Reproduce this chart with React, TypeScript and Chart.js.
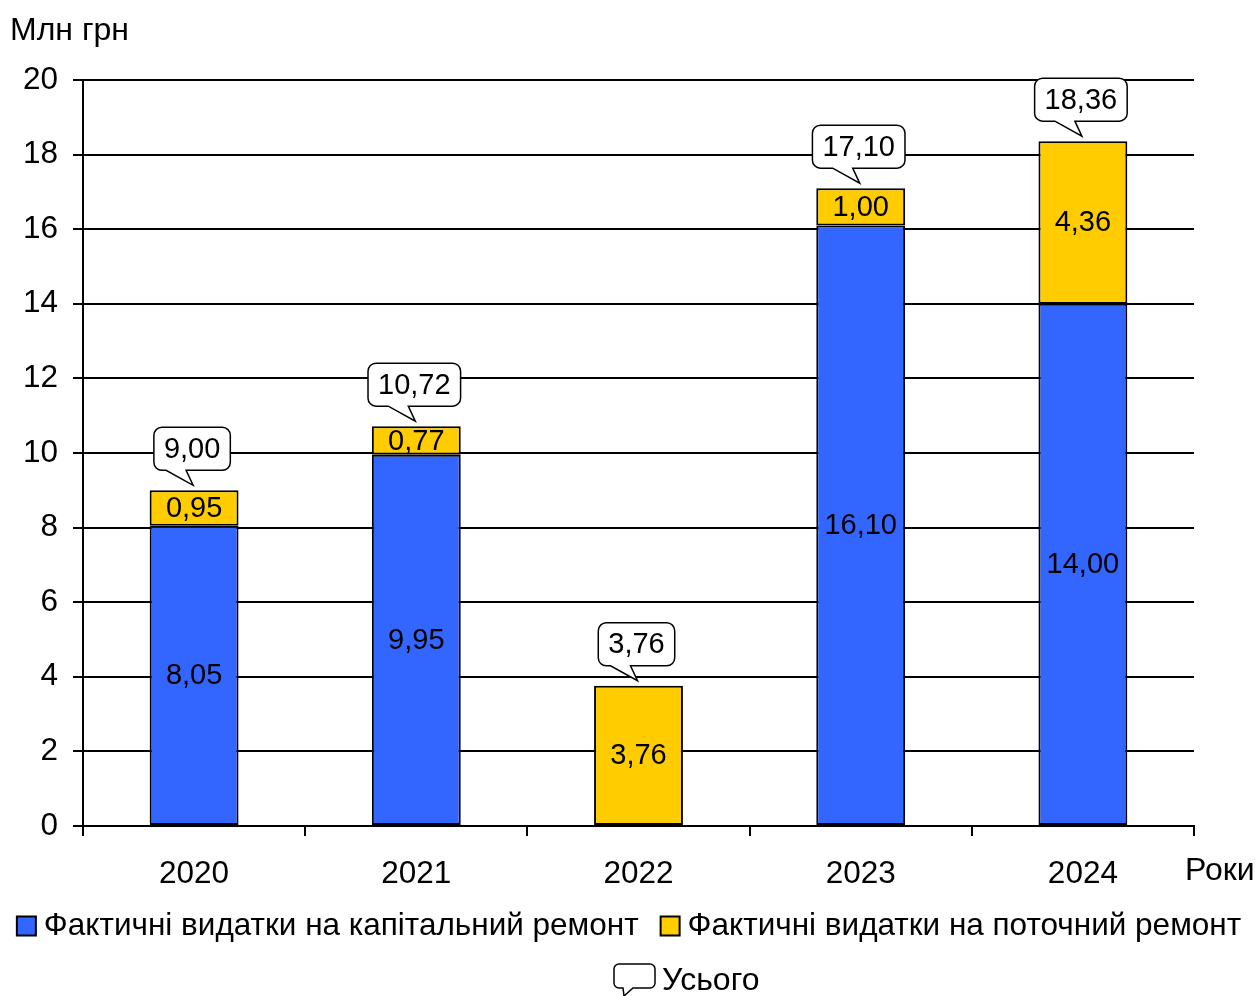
import React, { useEffect, useRef } from "react";
import { Chart, registerables } from "chart.js";

Chart.register(...registerables);

const years = ["2020", "2021", "2022", "2023", "2024"];
const capitalRepair = [8.05, 9.95, 0, 16.1, 14.0];
const currentRepair = [0.95, 0.77, 3.76, 1.0, 4.36];
const totals = [9.0, 10.72, 3.76, 17.1, 18.36];
const yMin = 0;
const yMax = 20;
const yStep = 2;
const seriesNames = [
  "Фактичні видатки на капітальний ремонт",
  "Фактичні видатки на поточний ремонт",
];
const totalName = "Усього";
const yAxisTitle = "Млн грн";
const xAxisTitle = "Роки";

const FONT = '"Liberation Sans", Arial, sans-serif';
const BLUE = "#3366FF";
const YELLOW = "#FFCC00";
const fmt = (v: number) => v.toFixed(2).replace(".", ",");

function calloutPath(
  ctx: CanvasRenderingContext2D,
  left: number,
  top: number,
  w: number,
  h: number,
  r: number,
  p1: number,
  p2: number,
  tipX: number,
  tipY: number
) {
  const right = left + w;
  const bottom = top + h;
  ctx.beginPath();
  ctx.moveTo(left + r, top);
  ctx.lineTo(right - r, top);
  ctx.arcTo(right, top, right, top + r, r);
  ctx.lineTo(right, bottom - r);
  ctx.arcTo(right, bottom, right - r, bottom, r);
  ctx.lineTo(p2, bottom);
  ctx.lineTo(tipX, tipY);
  ctx.lineTo(p1, bottom);
  ctx.lineTo(left + r, bottom);
  ctx.arcTo(left, bottom, left, bottom - r, r);
  ctx.lineTo(left, top + r);
  ctx.arcTo(left, top, left + r, top, r);
  ctx.closePath();
}

const overlayPlugin = {
  id: "overlay",
  afterDatasetsDraw(chart: any) {
    const ctx: CanvasRenderingContext2D = chart.ctx;
    ctx.save();
    ctx.font = `29px ${FONT}`;
    ctx.fillStyle = "#000";
    ctx.textAlign = "center";
    ctx.textBaseline = "middle";
    chart.data.datasets.forEach((ds: any, di: number) => {
      const meta = chart.getDatasetMeta(di);
      meta.data.forEach((bar: any, i: number) => {
        const v = ds.data[i] as number;
        if (!v) return;
        const { x, y, base } = bar.getProps(["x", "y", "base"], true);
        ctx.fillText(fmt(v), x, (y + base) / 2 + 1);
      });
    });
    const meta0 = chart.getDatasetMeta(0);
    const ys = chart.scales.y;
    totals.forEach((t, i) => {
      const barX = meta0.data[i].x;
      const cx = barX - 2;
      const barTop = ys.getPixelForValue(t);
      const label = fmt(t);
      const tw = ctx.measureText(label).width;
      const w = tw + 20;
      const h = 43;
      const bottom = barTop - 20;
      const left = cx - w / 2;
      calloutPath(ctx, left, bottom - h, w, h, 8, cx - 26, cx - 6, barX - 1, barTop - 5);
      ctx.fillStyle = "#fff";
      ctx.fill();
      ctx.strokeStyle = "#000";
      ctx.lineWidth = 1.5;
      ctx.stroke();
      ctx.fillStyle = "#000";
      ctx.fillText(label, cx, bottom - h / 2 + 1);
    });
    ctx.restore();
  },
  afterDraw(chart: any) {
    const ctx: CanvasRenderingContext2D = chart.ctx;
    const area = chart.chartArea;
    ctx.save();
    ctx.font = `32px ${FONT}`;
    ctx.fillStyle = "#000";
    ctx.textBaseline = "middle";
    ctx.textAlign = "left";
    ctx.fillText(yAxisTitle, 10, 31);
    ctx.fillText(xAxisTitle, area.right - 9, 871);

    // legend row 1
    ctx.font = `31.5px ${FONT}`;
    const sq = 19;
    const gapText = 8;
    const gapItem = 22;
    const widths = seriesNames.map((n) => sq + gapText + ctx.measureText(n).width);
    const total = widths[0] + gapItem + widths[1];
    let x = chart.width / 2 - total / 2;
    const rowY = 926;
    const colors = [BLUE, YELLOW];
    seriesNames.forEach((n, i) => {
      ctx.fillStyle = colors[i];
      ctx.fillRect(x, rowY - sq / 2, sq, sq);
      ctx.strokeStyle = "#000";
      ctx.lineWidth = 2;
      ctx.strokeRect(x, rowY - sq / 2, sq, sq);
      ctx.fillStyle = "#000";
      ctx.fillText(n, x + sq + gapText, rowY);
      x += widths[i] + gapItem;
    });

    // legend row 2 (callout icon)
    const ix = 614;
    const iy = 964;
    calloutPath(ctx, ix, iy, 41, 24, 5, ix + 9, ix + 19, ix + 10, iy + 32);
    ctx.fillStyle = "#fff";
    ctx.fill();
    ctx.strokeStyle = "#000";
    ctx.lineWidth = 1.5;
    ctx.stroke();
    ctx.fillStyle = "#000";
    ctx.font = `32px ${FONT}`;
    ctx.fillText(totalName, 662, 981);
    ctx.restore();
  },
};

export default function App() {
  const ref = useRef<HTMLCanvasElement | null>(null);
  useEffect(() => {
    if (!ref.current) return;
    const chart = new Chart(ref.current, {
      type: "bar",
      data: {
        labels: years,
        datasets: [
          {
            label: seriesNames[0],
            data: capitalRepair,
            backgroundColor: BLUE,
            borderColor: "#000",
            borderWidth: 2,
            borderSkipped: false,
          },
          {
            label: seriesNames[1],
            data: currentRepair,
            backgroundColor: YELLOW,
            borderColor: "#000",
            borderWidth: 2,
            borderSkipped: false,
          },
        ],
      },
      options: {
        responsive: false,
        animation: false,
        layout: { padding: { left: 0, top: 80, right: 64, bottom: 0 } },
        datasets: { bar: { categoryPercentage: 1, barPercentage: 0.4 } },
        plugins: { legend: { display: false }, tooltip: { enabled: false } },
        scales: {
          x: {
            stacked: true,
            grid: {
              offset: true,
              drawOnChartArea: false,
              drawTicks: true,
              tickLength: 10,
              color: "#000",
              lineWidth: 2,
            },
            border: { display: true, color: "#000", width: 2 },
            ticks: { color: "#000", font: { family: FONT, size: 31.5 }, padding: 19 },
            afterFit: (s: any) => {
              s.height = 170;
            },
          },
          y: {
            stacked: true,
            min: yMin,
            max: yMax,
            ticks: {
              stepSize: yStep,
              color: "#000",
              font: { family: FONT, size: 31.5 },
              padding: 15,
            },
            grid: { color: "#000", lineWidth: 2, tickLength: 10 },
            border: { display: true, color: "#000", width: 2 },
            afterFit: (s: any) => {
              s.width = 83;
            },
          },
        },
      },
      plugins: [overlayPlugin],
    } as any);
    return () => chart.destroy();
  }, []);
  return (
    <div style={{ position: "absolute", left: 0, top: 0, width: 1258, height: 996 }}>
      <canvas ref={ref} width={1258} height={996} />
    </div>
  );
}
